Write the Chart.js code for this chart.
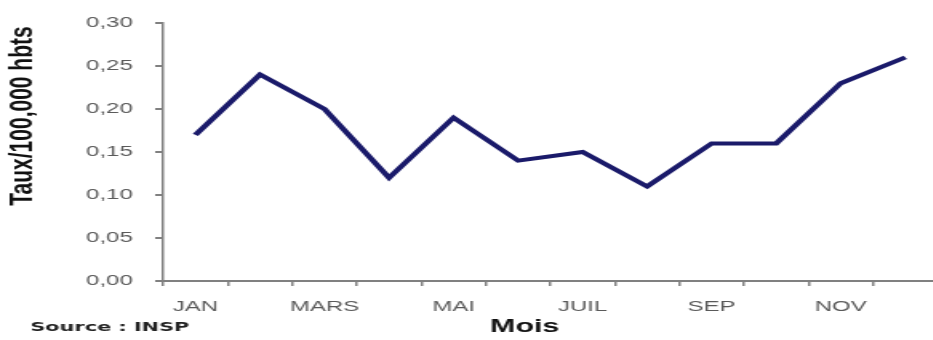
<!DOCTYPE html>
<html>
<head>
<meta charset="utf-8">
<script src="https://cdn.jsdelivr.net/npm/chart.js@4/dist/chart.umd.min.js"></script>
<style>
  body { margin: 0; background: #fff; overflow: hidden; width: 933px; height: 340px; }
  /* the reference picture is stretched sideways, so the chart is drawn narrow and widened */
  #wrap { position: absolute; left: 0; top: 0; transform: scaleX(1.6); transform-origin: 0 0; }
</style>
</head>
<body>
<div id="wrap"><canvas id="taux-chart" width="591" height="340"></canvas></div>
<script>
const months = ['JAN', 'FEV', 'MARS', 'AVR', 'MAI', 'JUIN', 'JUIL', 'AOUT', 'SEP', 'OCT', 'NOV', 'DEC']
const taux = [0.17, 0.24, 0.20, 0.12, 0.19, 0.14, 0.15, 0.11, 0.16, 0.16, 0.23, 0.26]
const yTicks = [0, 0.05, 0.10, 0.15, 0.20, 0.25, 0.30]

const lineColor = '#1a1a6a'
const axisGrey = '#808080'
const labelGrey = '#5a5a5a'

// axis titles and source note, placed like in the picture
const textPlugin = {
    id: 'texts',
    afterDraw(chart) {
        const ctx = chart.ctx
        ctx.save()
        ctx.fillStyle = '#111'
        ctx.textAlign = 'center'
        ctx.textBaseline = 'middle'

        ctx.font = 'bold 19px "Liberation Sans", Arial, sans-serif'
        ctx.fillText('Mois', 328, 327)

        ctx.save()
        ctx.translate(14, 116)
        ctx.rotate(-Math.PI / 2)
        ctx.font = 'bold 21px "Liberation Sans", Arial, sans-serif'
        ctx.fillText('Taux/100,000 hbts', 0, 0)
        ctx.restore()

        ctx.textAlign = 'left'
        ctx.fillStyle = '#222'
        ctx.font = 'bold 13px "DejaVu Sans", sans-serif'
        ctx.fillText('Source : INSP', 19, 328)
        ctx.restore()
    }
}

new Chart(document.getElementById('taux-chart'), {
    type: 'line',
    data: {
        labels: months,
        datasets: [{
            data: taux,
            borderColor: lineColor,
            borderWidth: 4,
            pointRadius: 0,
            tension: 0,
            fill: false
        }]
    },
    options: {
        responsive: false,
        animation: false,
        layout: { padding: { top: 21, right: 5, left: 0, bottom: 0 } },
        plugins: {
            legend: { display: false },
            tooltip: { enabled: false }
        },
        scales: {
            x: {
                offset: true,
                grid: {
                    offset: true,
                    drawOnChartArea: false,
                    drawTicks: true,
                    tickLength: 5,
                    tickColor: axisGrey,
                    lineWidth: 1.5
                },
                border: { color: axisGrey, width: 2 },
                ticks: {
                    autoSkip: false,
                    maxRotation: 0,
                    padding: 12,
                    color: labelGrey,
                    font: { family: '"Liberation Sans", Arial, sans-serif', size: 15 },
                    callback: function(value, index) {
                        return index % 2 === 0 ? months[index] : ''
                    }
                },
                afterFit: function(scale) { scale.height = 59 }
            },
            y: {
                min: yTicks[0],
                max: yTicks[yTicks.length - 1],
                afterBuildTicks: function(scale) {
                    scale.ticks = yTicks.map(v => ({ value: v }))
                },
                grid: {
                    drawOnChartArea: false,
                    drawTicks: true,
                    tickLength: 5,
                    tickColor: axisGrey,
                    lineWidth: 2
                },
                border: { color: axisGrey, width: 1.5 },
                ticks: {
                    padding: 14,
                    color: labelGrey,
                    font: { family: '"Liberation Sans", Arial, sans-serif', size: 15 },
                    callback: function(value) {
                        return value.toFixed(2).replace('.', ',')
                    }
                },
                afterFit: function(scale) { scale.width = 102 }
            }
        }
    },
    plugins: [textPlugin]
});
</script>
</body>
</html>
